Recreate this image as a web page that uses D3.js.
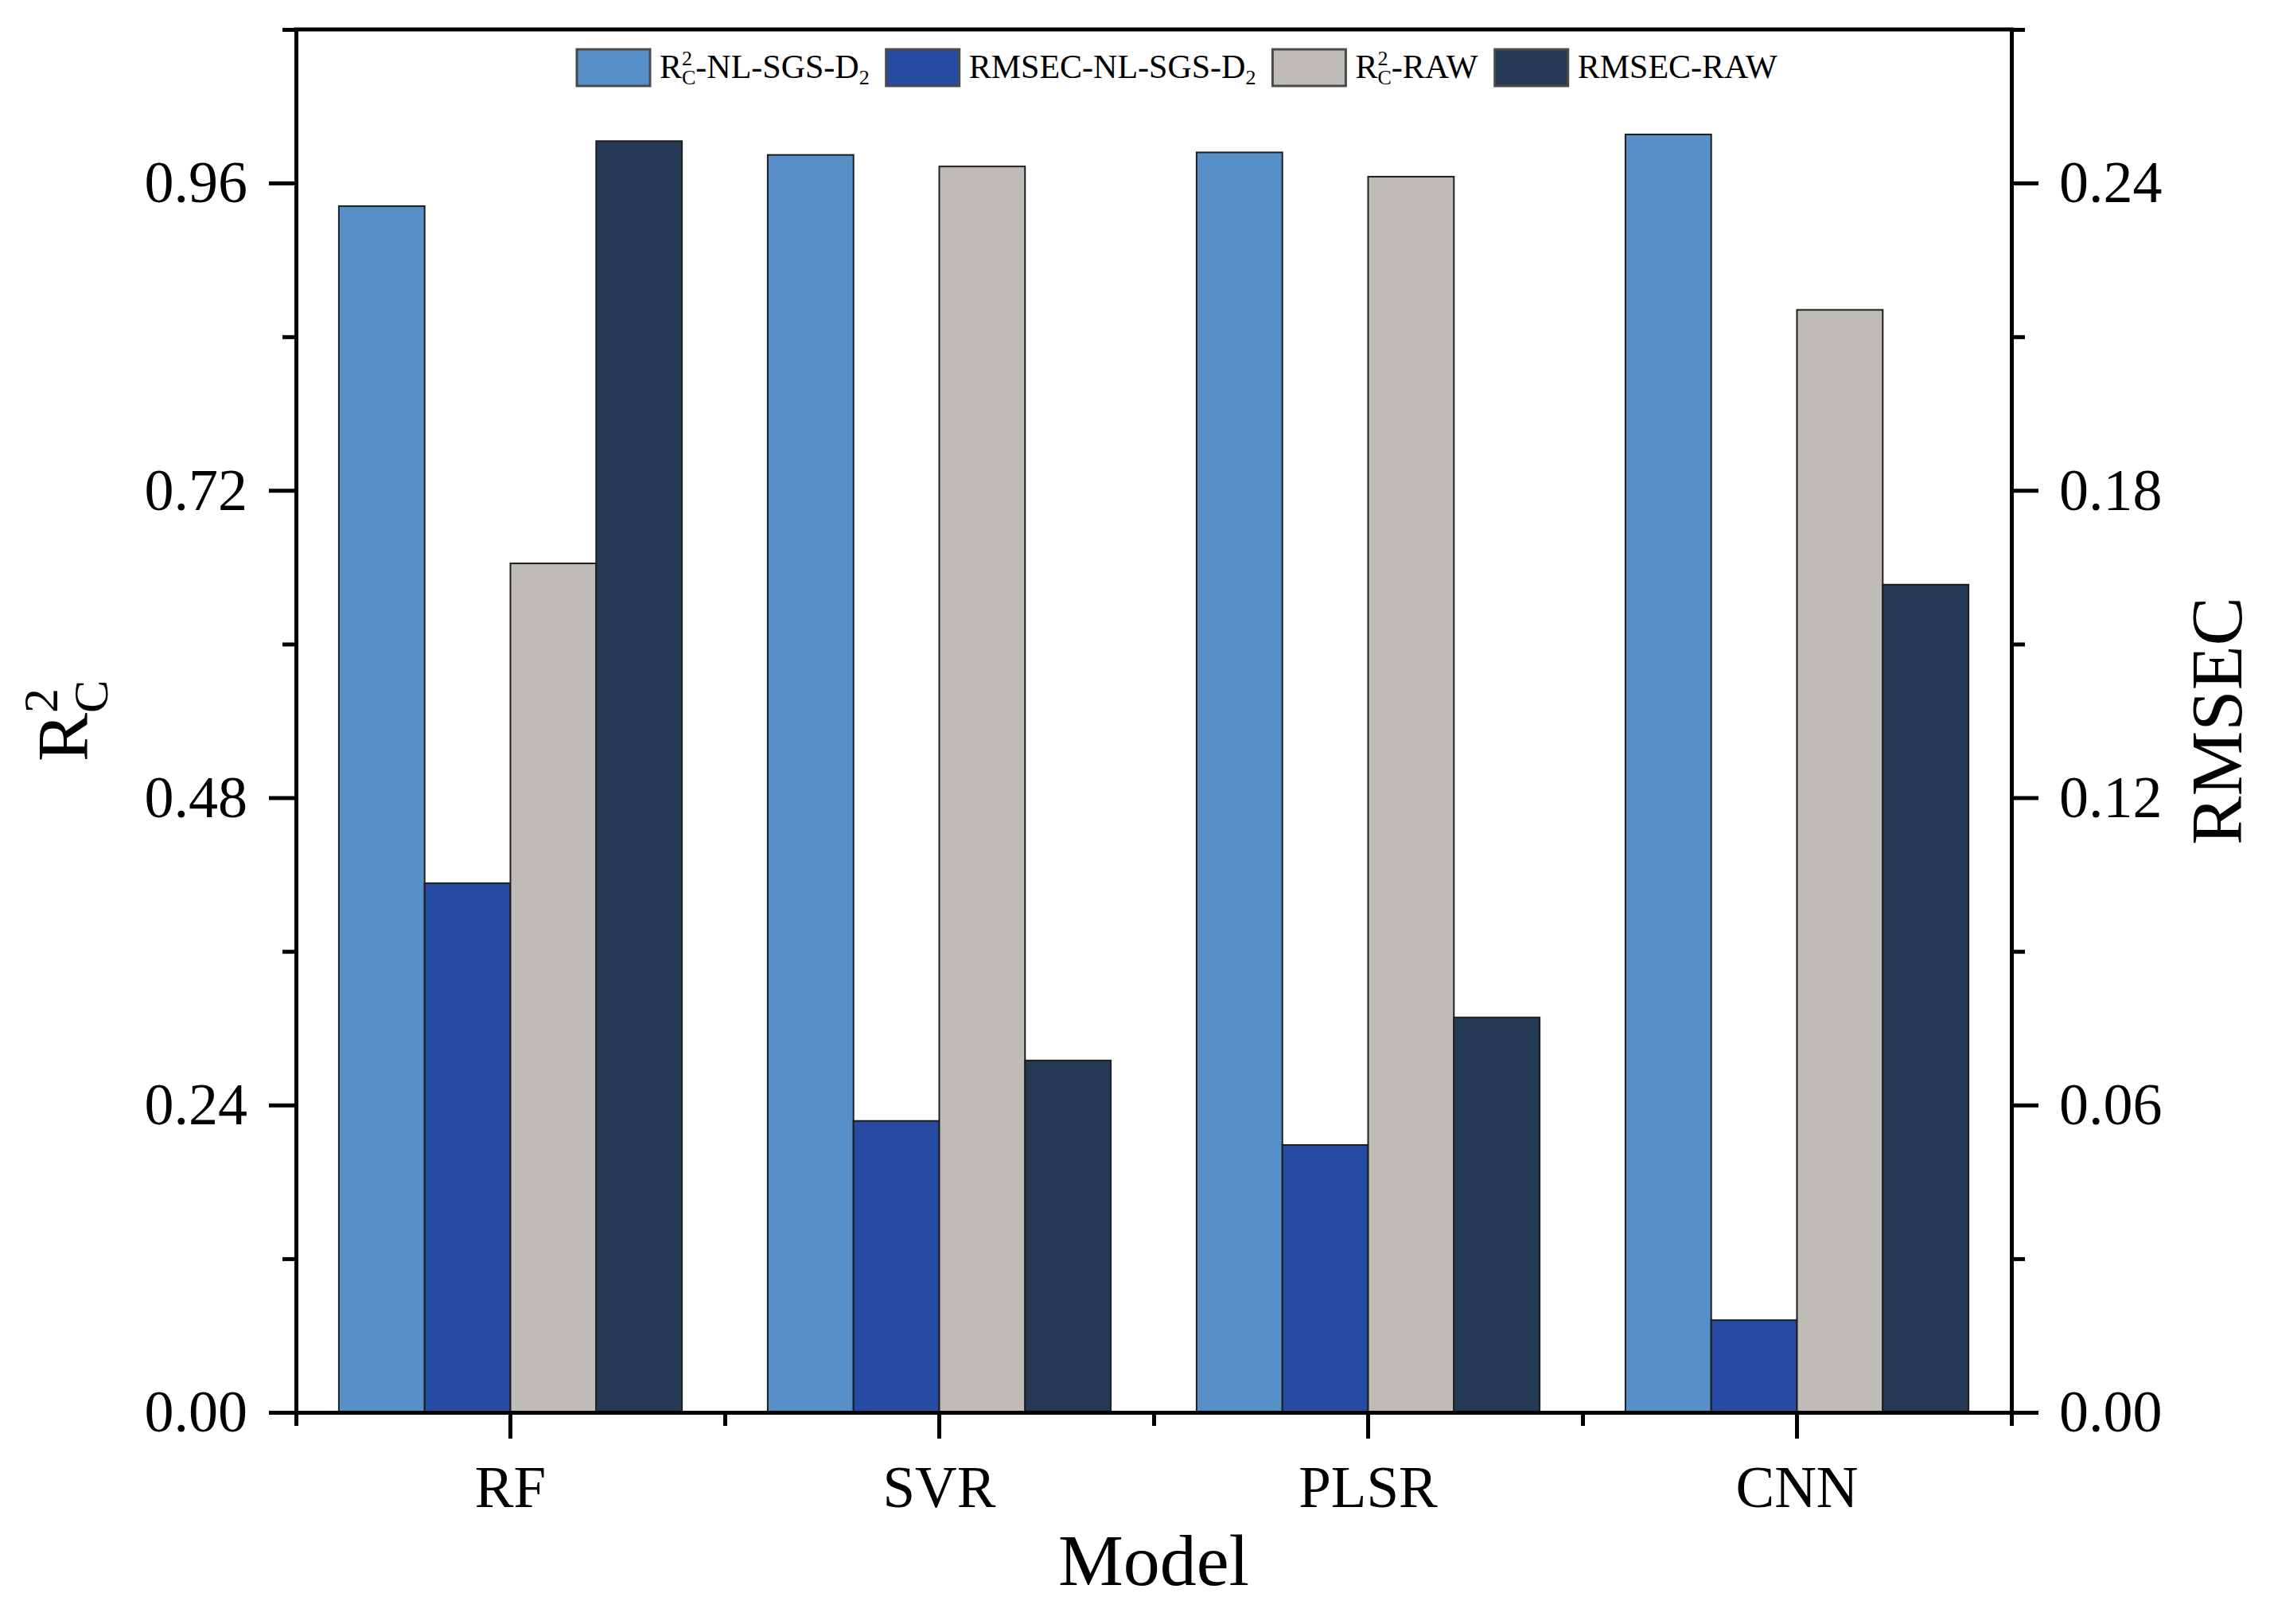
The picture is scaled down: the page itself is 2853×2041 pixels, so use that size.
<!DOCTYPE html>
<html>
<head>
<meta charset="utf-8">
<script src="https://cdn.jsdelivr.net/npm/d3@7"></script>
<style>
  body { margin: 0; background: #fff; }
  svg { display: block; }
</style>
</head>
<body>
<div id="chart"></div>
<script>
// data
const models = ["RF", "SVR", "PLSR", "CNN"];
const seriesKeys = ["r2NL", "rmsecNL", "r2Raw", "rmsecRaw"];
const r2NL = [0.942, 0.982, 0.984, 0.998];
const rmsecNL = [0.1033, 0.0569, 0.0522, 0.0180];
const r2Raw = [0.663, 0.973, 0.965, 0.861];
const rmsecRaw = [0.2482, 0.0687, 0.0771, 0.1616];
const leftTicks = [0, 0.24, 0.48, 0.72, 0.96];
const rightTicks = [0, 0.06, 0.12, 0.18, 0.24];

const W = 2853, H = 2041;
const margin = { top: 37, left: 372, right: 325, bottom: 266 };
const width = W - margin.left - margin.right,
      height = H - margin.top - margin.bottom;
const font = "'Liberation Serif', 'Times New Roman', serif";

const color = d3.scaleOrdinal()
  .domain(seriesKeys)
  .range(["#5790c8", "#264ba3", "#bfbcb8", "#243a54"]);

const svg = d3.select("#chart")
  .append("svg")
    .attr("width", W)
    .attr("height", H)
  .append("g")
    .attr("transform", `translate(${margin.left},${margin.top})`);

// scales
const x = d3.scaleBand().domain(models).range([0, width]).padding(0);
const xSub = d3.scaleBand().domain(seriesKeys).range([0, x.bandwidth()])
  .paddingInner(0).paddingOuter(0.5);
const yL = d3.scaleLinear().domain([0, 1.08]).range([height, 0]);
const yR = d3.scaleLinear().domain([0, 0.27]).range([height, 0]);

// rows for bars
const rows = models.map((m, i) => ({
  model: m,
  vals: [
    { key: "r2NL", value: r2NL[i], y: yL },
    { key: "rmsecNL", value: rmsecNL[i], y: yR },
    { key: "r2Raw", value: r2Raw[i], y: yL },
    { key: "rmsecRaw", value: rmsecRaw[i], y: yR }
  ]
}));

svg.append("g")
  .selectAll("g")
  .data(rows)
  .join("g")
    .attr("transform", d => `translate(${x(d.model)},0)`)
  .selectAll("rect")
  .data(d => d.vals)
  .join("rect")
    .attr("x", d => xSub(d.key))
    .attr("y", d => d.y(d.value))
    .attr("width", xSub.bandwidth())
    .attr("height", d => height - d.y(d.value))
    .attr("fill", d => color(d.key))
    .attr("stroke", "#1e1e1e")
    .attr("stroke-width", 2);

function styleAxis(g, size) {
  g.attr("font-family", font).attr("font-size", size);
  g.selectAll(".tick line").attr("stroke", "#000").attr("stroke-width", 5);
  g.selectAll(".tick text").attr("fill", "#000");
  g.select(".domain").attr("stroke", "#000").attr("stroke-width", 5)
    .attr("stroke-linecap", "square");
}

// minor ticks
const minorL = leftTicks.map(v => v + 0.12);
const minorR = rightTicks.map(v => v + 0.03);

svg.append("g")
  .call(d3.axisLeft(yL).tickValues(minorL).tickSize(17).tickFormat(""))
  .call(g => { styleAxis(g, 74); g.select(".domain").remove(); });
svg.append("g")
  .attr("transform", `translate(${width},0)`)
  .call(d3.axisRight(yR).tickValues(minorR).tickSize(17).tickFormat(""))
  .call(g => { styleAxis(g, 74); g.select(".domain").remove(); });
svg.append("g")
  .attr("transform", `translate(0,${height})`)
  .call(d3.axisBottom(d3.scaleLinear().domain([0, models.length]).range([0, width]))
    .tickValues(d3.range(models.length + 1)).tickSize(17).tickFormat(""))
  .call(g => { styleAxis(g, 74); g.select(".domain").remove(); });

// major axes
svg.append("g")
  .call(d3.axisLeft(yL).tickValues(leftTicks).tickFormat(d3.format(".2f"))
    .tickSize(34).tickSizeOuter(0).tickPadding(27))
  .call(g => styleAxis(g, 74));
svg.append("g")
  .attr("transform", `translate(${width},0)`)
  .call(d3.axisRight(yR).tickValues(rightTicks).tickFormat(d3.format(".2f"))
    .tickSize(34).tickSizeOuter(0).tickPadding(26))
  .call(g => styleAxis(g, 74));
svg.append("g")
  .attr("transform", `translate(0,${height})`)
  .call(d3.axisBottom(x).tickSize(33).tickSizeOuter(0).tickPadding(34))
  .call(g => styleAxis(g, 73));

// top frame line
svg.append("line")
  .attr("x1", 0).attr("x2", width).attr("y1", 0).attr("y2", 0)
  .attr("stroke", "#000").attr("stroke-width", 5).attr("stroke-linecap", "square");

// axis titles
svg.append("text")
  .attr("x", width / 2).attr("y", 1992 - margin.top)
  .attr("text-anchor", "middle")
  .attr("font-family", font).attr("font-size", 92)
  .text("Model");

const yTitle = svg.append("text")
  .attr("transform", `translate(${110 - margin.left},${height / 2}) rotate(-90)`)
  .attr("text-anchor", "middle")
  .attr("font-family", font).attr("font-size", 92);
yTitle.append("tspan").text("R");
yTitle.append("tspan").attr("font-size", 62).attr("dy", -38).text("2");
yTitle.append("tspan").attr("font-size", 62).attr("dx", -31).attr("dy", 63).text("C");

svg.append("text")
  .attr("transform", `translate(${width + 289},${height / 2}) rotate(-90)`)
  .attr("text-anchor", "middle")
  .attr("font-family", font).attr("font-size", 92)
  .text("RMSEC");

// legend
const legendLabels = [
  { r2: true, rest: "-NL-SGS-D", sub: "2" },
  { r2: false, rest: "RMSEC-NL-SGS-D", sub: "2" },
  { r2: true, rest: "-RAW", sub: "" },
  { r2: false, rest: "RMSEC-RAW", sub: "" }
];

const legend = svg.append("g")
  .attr("font-family", font).attr("font-size", 42);
let lx = 725 - margin.left;
seriesKeys.forEach((k, i) => {
  const lab = legendLabels[i];
  legend.append("rect")
    .attr("x", lx).attr("y", 62 - margin.top)
    .attr("width", 92).attr("height", 46)
    .attr("fill", color(k))
    .attr("stroke", "#4a4a4a").attr("stroke-width", 3);
  const t = legend.append("text")
    .attr("x", lx + 104).attr("y", 98 - margin.top);
  if (lab.r2) {
    t.append("tspan").text("R");
    t.append("tspan").attr("font-size", 26).attr("dy", -16).text("2");
    t.append("tspan").attr("font-size", 26).attr("dx", -13).attr("dy", 24).text("C");
    t.append("tspan").attr("dy", -8).text(lab.rest);
  } else {
    t.append("tspan").text(lab.rest);
  }
  if (lab.sub) {
    t.append("tspan").attr("font-size", 26).attr("dy", 8).text(lab.sub);
  }
  lx = lx + 104 + t.node().getBBox().width + 21;
});
</script>
</body>
</html>
